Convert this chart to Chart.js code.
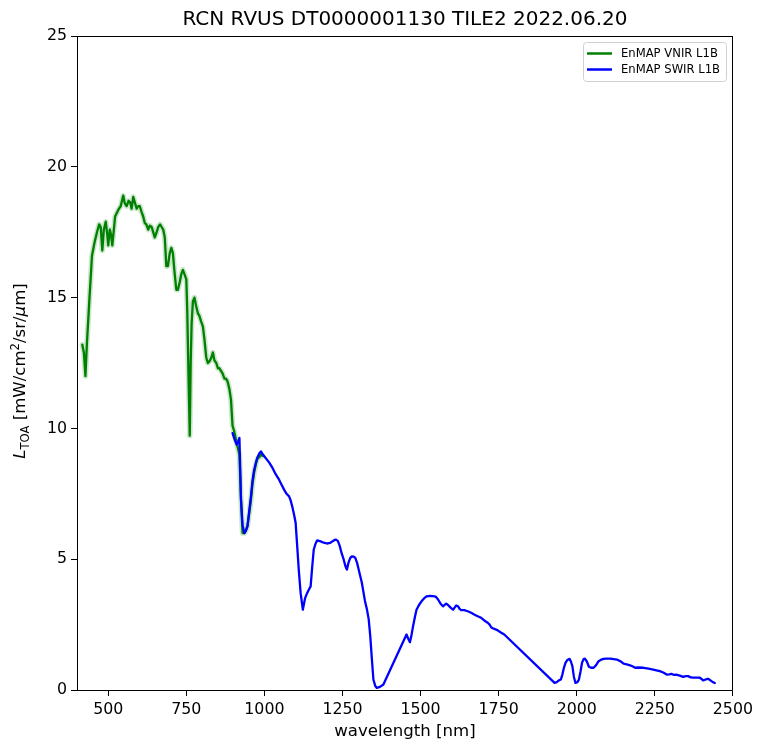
<!DOCTYPE html>
<html>
<head>
<meta charset="utf-8">
<script src="https://cdn.jsdelivr.net/npm/chart.js@4.4.1/dist/chart.umd.min.js"></script>
<style>
html, body { margin: 0; padding: 0; background: #fff; }
canvas { display: block; }
</style>
</head>
<body>
<canvas id="spectrumChart" width="757" height="745"></canvas>
<script>
const chartTitle = 'RCN RVUS DT0000001130 TILE2 2022.06.20';
const seriesLabels = ['EnMAP VNIR L1B', 'EnMAP SWIR L1B'];
const xTicks = [500, 750, 1000, 1250, 1500, 1750, 2000, 2250, 2500];

// VNIR band centres [nm] and TOA radiance
const vnirWl = [417, 422, 427, 432, 440, 448, 456, 464, 471, 476, 481, 486, 492, 497, 500, 505, 509, 513, 518, 522,
    532, 540, 548, 553, 559, 565, 570, 575, 580, 586, 591, 596, 601, 606, 612, 617, 622, 628, 633, 639,
    644, 649, 655, 660, 666, 671, 676, 681, 686, 691, 697, 702, 707, 712, 718, 723, 729, 734, 739, 744,
    750, 753, 757, 761, 764, 767, 771, 776, 781, 787, 792, 797, 803, 808, 814, 819, 824, 830, 835, 840,
    846, 851, 856, 861, 866, 872, 877, 882, 888, 893, 898, 903, 909, 914, 920, 925, 930, 936, 941, 946,
    952, 957, 962, 967, 973, 978, 984, 989, 994];
const vnirRad = [13.2, 12.9, 12.0, 13.3, 15.0, 16.6, 17.1, 17.5, 17.8, 17.7, 16.8, 17.6, 17.9, 17.4, 17.0, 17.6, 17.4, 17.0, 17.6, 18.1,
    18.35, 18.5, 18.9, 18.6, 18.5, 18.7, 18.65, 18.4, 18.85, 18.6, 18.4, 18.5, 18.5, 18.3, 18.1, 17.85, 17.8, 17.6, 17.75, 17.7,
    17.5, 17.3, 17.5, 17.7, 17.8, 17.7, 17.6, 17.3, 16.2, 16.2, 16.7, 16.9, 16.7, 16.0, 15.3, 15.3, 15.6, 15.9, 16.06, 15.9,
    15.7, 14.5, 12.0, 9.72, 12.5, 14.0, 14.85, 15.0, 14.7, 14.4, 14.3, 14.1, 13.9, 13.4, 12.7, 12.5, 12.56, 12.7, 12.9, 12.6,
    12.5, 12.3, 12.3, 12.2, 12.1, 11.9, 11.9, 11.8, 11.5, 11.1, 10.1, 9.9, 9.57, 9.3, 9.0, 7.3, 6.0, 6.0, 6.1, 6.3,
    6.8, 7.3, 7.9, 8.3, 8.65, 8.85, 8.9, 9.0, 8.95];

// SWIR band centres [nm] and TOA radiance
const swirWl = [898, 904, 911, 916, 920, 925, 930, 936, 941, 946, 951, 957, 962, 967, 973, 978, 984, 989, 995, 1004,
    1015, 1026, 1036, 1047, 1055, 1063, 1071, 1079, 1084, 1089, 1095, 1100, 1105, 1110, 1116, 1123, 1130, 1137, 1143, 1148,
    1153, 1158, 1164, 1169, 1180, 1190, 1200, 1210, 1220, 1228, 1235, 1240, 1248, 1254, 1259, 1264, 1270, 1275, 1280, 1286,
    1291, 1297, 1302, 1307, 1312, 1317, 1322, 1328, 1334, 1339, 1344, 1349, 1355, 1360, 1370, 1381, 1455, 1461, 1466, 1471,
    1476, 1482, 1487, 1495, 1503, 1511, 1519, 1530, 1545, 1550, 1556, 1564, 1572, 1577, 1582, 1588, 1596, 1604, 1609, 1614,
    1620, 1625, 1630, 1640, 1651, 1662, 1673, 1683, 1694, 1705, 1715, 1721, 1726, 1731, 1740, 1747, 1757, 1768, 1929, 1936,
    1943, 1949, 1954, 1959, 1964, 1970, 1977, 1981, 1986, 1991, 1996, 2002, 2007, 2012, 2017, 2022, 2026, 2032, 2039, 2046,
    2054, 2062, 2070, 2078, 2086, 2096, 2107, 2118, 2129, 2140, 2150, 2160, 2171, 2180, 2187, 2200, 2214, 2230, 2245, 2255,
    2266, 2277, 2288, 2296, 2303, 2310, 2319, 2330, 2341, 2349, 2357, 2365, 2373, 2383, 2394, 2400, 2405, 2412, 2420, 2428,
    2436, 2442];
const swirRad = [9.82, 9.6, 9.38, 9.5, 9.64, 7.3, 6.3, 6.0, 6.1, 6.26, 6.8, 7.4, 8.0, 8.4, 8.7, 8.9, 9.05, 9.12, 9.0, 8.87,
    8.7, 8.49, 8.25, 8.04, 7.85, 7.66, 7.5, 7.4, 7.25, 7.02, 6.7, 6.39, 5.5, 4.6, 3.7, 3.07, 3.5, 3.71, 3.85, 3.96,
    4.7, 5.37, 5.6, 5.72, 5.68, 5.63, 5.6, 5.62, 5.7, 5.75, 5.7, 5.55, 5.2, 4.98, 4.75, 4.6, 4.9, 5.05, 5.11, 5.1,
    5.05, 4.85, 4.6, 4.35, 4.1, 3.75, 3.4, 3.1, 2.7, 2.05, 1.2, 0.4, 0.15, 0.08, 0.12, 0.21, 2.12, 1.95, 1.83, 2.1,
    2.44, 2.8, 3.07, 3.25, 3.39, 3.5, 3.58, 3.6, 3.58, 3.55, 3.46, 3.3, 3.2, 3.25, 3.3, 3.25, 3.15, 3.07, 3.15, 3.23,
    3.2, 3.1, 3.05, 3.05, 3.01, 2.95, 2.88, 2.82, 2.76, 2.65, 2.57, 2.5, 2.4, 2.36, 2.32, 2.28, 2.2, 2.12, 0.27, 0.3,
    0.37, 0.4, 0.59, 0.85, 1.04, 1.15, 1.19, 1.1, 0.91, 0.5, 0.27, 0.3, 0.4, 0.7, 1.04, 1.18, 1.2, 1.1, 0.89, 0.85,
    0.85, 0.95, 1.1, 1.16, 1.19, 1.2, 1.2, 1.18, 1.16, 1.1, 1.01, 0.98, 0.94, 0.9, 0.85, 0.86, 0.85, 0.82, 0.78, 0.75,
    0.72, 0.67, 0.59, 0.6, 0.62, 0.58, 0.59, 0.55, 0.5, 0.53, 0.53, 0.48, 0.47, 0.47, 0.47, 0.42, 0.37, 0.4, 0.43, 0.37,
    0.3, 0.27];

const FONT = 'DejaVu Sans';
const toPoints = (xs, ys) => xs.map((x, i) => ({ x: x, y: ys[i] }));

// frame + legend + y label with sub/superscripts
const extras = {
    id: 'extras',
    afterDraw(chart) {
        const ctx = chart.ctx;
        const a = chart.chartArea;
        ctx.save();
        ctx.strokeStyle = '#000';
        ctx.lineWidth = 1;
        ctx.strokeRect(Math.round(a.left) + 0.5, Math.round(a.top) + 0.5,
            Math.round(a.right - a.left) - 1, Math.round(a.bottom - a.top));

        // legend
        const lx = 583.5, ly = 42.5, lw = 143, lh = 39;
        ctx.beginPath();
        ctx.roundRect(lx, ly, lw, lh, 3);
        ctx.fillStyle = 'rgba(255,255,255,0.8)';
        ctx.fill();
        ctx.strokeStyle = '#d0d0d0';
        ctx.stroke();
        const colors = ['#008000', '#0000ff'];
        ctx.font = '11.6px "' + FONT + '"';
        ctx.textBaseline = 'middle';
        ctx.fillStyle = '#000';
        seriesLabels.forEach((lab, i) => {
            const y = 53.5 + i * 16;
            ctx.strokeStyle = colors[i];
            ctx.lineWidth = 2.5;
            ctx.beginPath();
            ctx.moveTo(587, y);
            ctx.lineTo(612, y);
            ctx.stroke();
            ctx.fillText(lab, 621, y);
        });

        // y axis label
        const parts = [
            { t: 'L', f: 'italic 16.6px "' + FONT + '"', dy: 0 },
            { t: 'TOA', f: '11.6px "' + FONT + '"', dy: 3.5 },
            { t: ' [mW/cm', f: '16.6px "' + FONT + '"', dy: 0 },
            { t: '2', f: '11.6px "' + FONT + '"', dy: -6.5 },
            { t: '/sr/', f: '16.6px "' + FONT + '"', dy: 0 },
            { t: 'μ', f: 'italic 16.6px "' + FONT + '"', dy: 0 },
            { t: 'm]', f: '16.6px "' + FONT + '"', dy: 0 }
        ];
        let total = 0;
        parts.forEach(p => { ctx.font = p.f; p.w = ctx.measureText(p.t).width; total += p.w; });
        ctx.translate(25, 371);
        ctx.rotate(-Math.PI / 2);
        ctx.textBaseline = 'alphabetic';
        ctx.textAlign = 'left';
        let px = -total / 2;
        parts.forEach(p => {
            ctx.font = p.f;
            ctx.fillText(p.t, px, p.dy);
            px += p.w;
        });
        ctx.restore();
    }
};

Chart.defaults.color = '#000';
Chart.defaults.font.family = FONT;

const ctx = document.getElementById('spectrumChart').getContext('2d');
new Chart(ctx, {
    type: 'line',
    data: {
        datasets: [
            {
                label: seriesLabels[1],
                data: toPoints(swirWl, swirRad),
                borderColor: '#0000ff',
                borderWidth: 2.3,
                order: 1
            },
            {
                label: seriesLabels[0],
                data: toPoints(vnirWl, vnirRad),
                borderColor: '#008000',
                borderWidth: 2.3,
                order: 2
            },
            {
                label: 'VNIR spread',
                data: toPoints(vnirWl, vnirRad),
                borderColor: 'rgba(0,128,0,0.2)',
                borderWidth: 5.5,
                order: 3
            }
        ]
    },
    options: {
        responsive: false,
        animation: false,
        devicePixelRatio: 1,
        elements: {
            point: { radius: 0 },
            line: { tension: 0, borderJoinStyle: 'round', borderCapStyle: 'round' }
        },
        layout: { padding: { left: 0, right: 23, top: 0, bottom: 0 } },
        plugins: {
            legend: { display: false },
            tooltip: { enabled: false },
            title: {
                display: true,
                text: chartTitle,
                fullSize: false,
                font: { size: 20, weight: 'normal' },
                padding: { top: 7.5, bottom: 4.5 }
            }
        },
        scales: {
            x: {
                type: 'linear',
                min: 400,
                max: 2500,
                afterBuildTicks: s => { s.ticks = xTicks.map(v => ({ value: v })); },
                afterFit: s => { s.height = 55; },
                grid: { drawOnChartArea: false, tickLength: 6, tickColor: '#000' },
                border: { color: '#000' },
                ticks: { font: { size: 15.8 }, autoSkip: false, maxRotation: 0, padding: 4, callback: v => String(v) },
                title: { display: true, text: 'wavelength [nm]', font: { size: 16.6 }, padding: { top: 0, bottom: 3 } }
            },
            y: {
                min: 0,
                max: 25,
                afterFit: s => { s.width = 77; },
                grid: { drawOnChartArea: false, tickLength: 6, tickColor: '#000' },
                border: { color: '#000' },
                ticks: { stepSize: 5, font: { size: 15.8 }, padding: 4 }
            }
        }
    },
    plugins: [extras]
});
</script>
</body>
</html>
